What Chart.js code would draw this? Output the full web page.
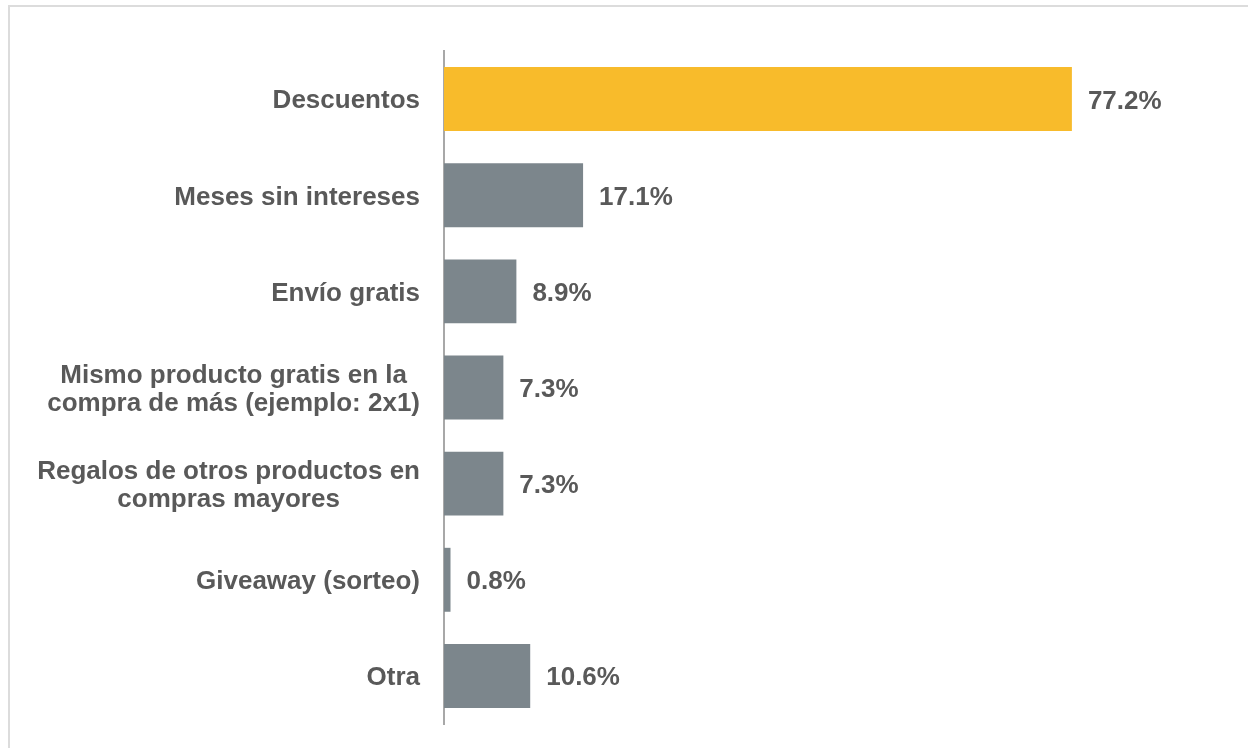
<!DOCTYPE html>
<html>
<head>
<meta charset="utf-8">
<script src="https://cdn.jsdelivr.net/npm/chart.js@4"></script>
<style>
  html, body { margin: 0; padding: 0; background: #fff; overflow: hidden; }
  #wrap { position: relative; width: 1248px; height: 748px; }
  #frame { position: absolute; left: 8px; top: 5px; width: 1300px; height: 800px;
           border: 2px solid #dcdcdc; box-sizing: border-box; }
  canvas { position: absolute; left: 0; top: 0; }
</style>
</head>
<body>
<div id="wrap">
  <div id="frame"></div>
  <canvas id="chart" width="1248" height="748"></canvas>
</div>
<script>
const categories = [
  'Descuentos',
  'Meses sin intereses',
  'Envío gratis',
  ['Mismo producto gratis en la', 'compra de más (ejemplo: 2x1)'],
  ['Regalos de otros productos en', 'compras mayores'],
  'Giveaway (sorteo)',
  'Otra'
];
const values = [77.2, 17.1, 8.9, 7.3, 7.3, 0.8, 10.6];
const barColors = ['#f8bb2b', '#7c868c', '#7c868c', '#7c868c', '#7c868c', '#7c868c', '#7c868c'];

const FONT = 'bold 26px "Liberation Sans", Arial, sans-serif';
const TEXT = '#595959';

// category names left of the axis, multi-line ones centred in their block
const catLabels = {
  id: 'catLabels',
  afterDraw(chart) {
    const ctx = chart.ctx;
    const y = chart.scales.y;
    const right = chart.chartArea.left - 24;
    ctx.save();
    ctx.font = FONT;
    ctx.fillStyle = TEXT;
    ctx.textBaseline = 'alphabetic';
    categories.forEach((c, i) => {
      const lines = Array.isArray(c) ? c : [c];
      const cy = y.getPixelForValue(i);
      const widest = Math.max(...lines.map(l => ctx.measureText(l).width));
      const cx = right - widest / 2;
      lines.forEach((l, k) => {
        const ly = cy + (k - (lines.length - 1) / 2) * 28 + 9.3;
        ctx.textAlign = lines.length > 1 ? 'center' : 'right';
        ctx.fillText(l, lines.length > 1 ? cx : right, ly);
      });
    });
    ctx.restore();
  }
};

// value labels at the end of each bar
const valueLabels = {
  id: 'valueLabels',
  afterDatasetsDraw(chart) {
    const ctx = chart.ctx;
    const meta = chart.getDatasetMeta(0);
    ctx.save();
    ctx.font = FONT;
    ctx.fillStyle = TEXT;
    ctx.textAlign = 'left';
    ctx.textBaseline = 'alphabetic';
    meta.data.forEach((bar, i) => {
      ctx.fillText(values[i].toFixed(1) + '%', bar.x + 16, bar.y + 9.5);
    });
    ctx.restore();
  }
};

new Chart(document.getElementById('chart'), {
  type: 'bar',
  data: {
    labels: categories,
    datasets: [{
      data: values,
      backgroundColor: barColors,
      borderWidth: 0,
      barPercentage: 0.665,
      categoryPercentage: 1
    }]
  },
  options: {
    indexAxis: 'y',
    responsive: false,
    animation: false,
    layout: { padding: { top: 51, bottom: 24, left: 0, right: 72 } },
    plugins: { legend: { display: false }, tooltip: { enabled: false } },
    scales: {
      x: { display: false, min: 0, max: 90 },
      y: {
        grid: { display: false },
        border: { display: true, color: '#a8a8a8', width: 2 },
        ticks: { display: false },
        afterFit(scale) { scale.width = 444; }
      }
    }
  },
  plugins: [catLabels, valueLabels]
});
</script>
</body>
</html>
